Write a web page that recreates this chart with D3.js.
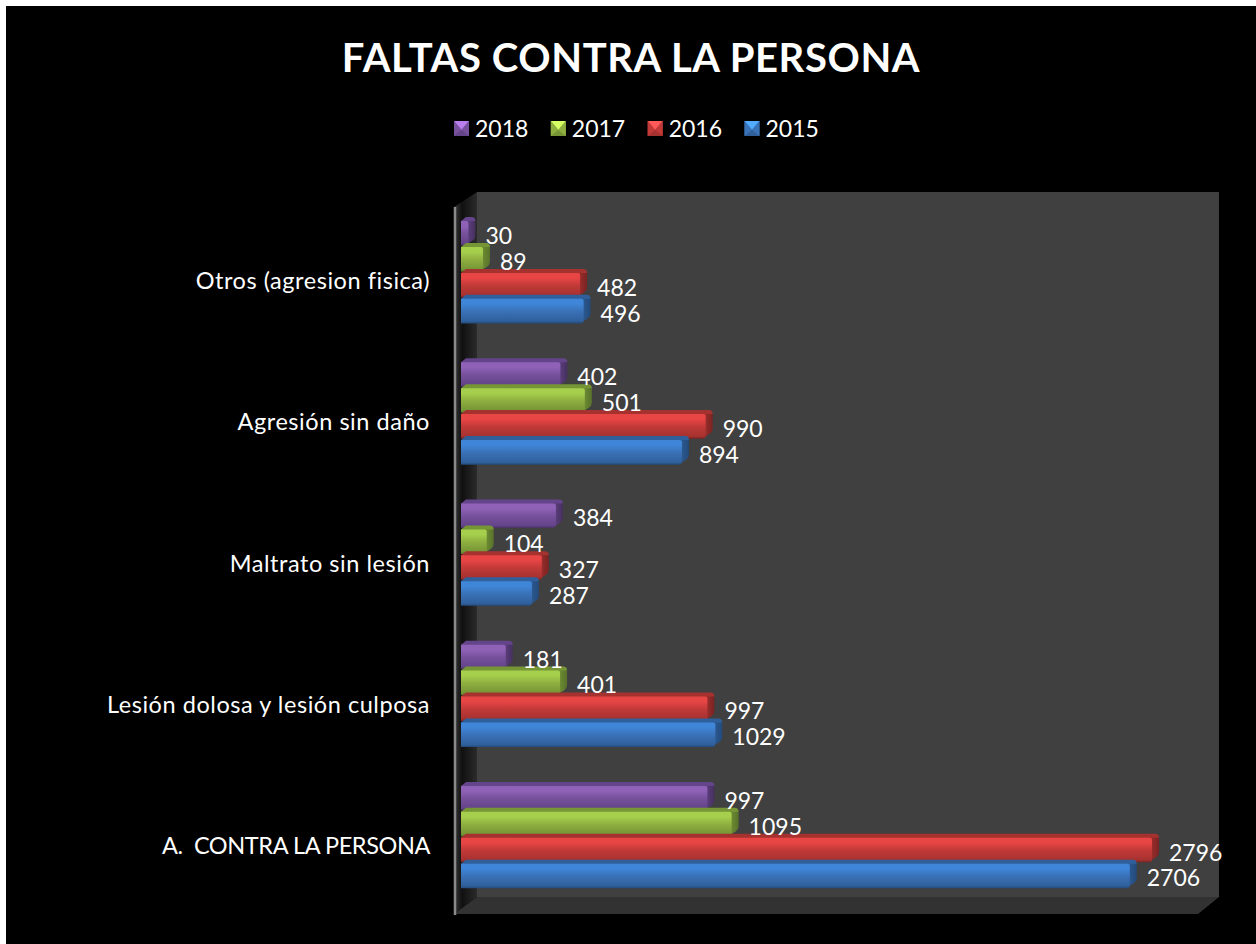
<!DOCTYPE html>
<html>
<head>
<meta charset="utf-8">
<script src="https://cdn.jsdelivr.net/npm/d3@7"></script>
<style>
html, body { margin: 0; padding: 0; background: #fff; overflow: hidden; }
svg { display: block; }
text { font-family: Lato, "Open Sans", sans-serif; fill: #fff; white-space: pre; }
</style>
</head>
<body>
<div id="chart"></div>
<script>
var categories = ["Otros (agresion fisica)", "Agresión sin daño", "Maltrato sin lesión", "Lesión dolosa y lesión culposa", "A.  CONTRA LA PERSONA"];
var years = ["2018", "2017", "2016", "2015"];
var values2018 = [30, 402, 384, 181, 997];
var values2017 = [89, 501, 104, 401, 1095];
var values2016 = [482, 990, 327, 997, 2796];
var values2015 = [496, 894, 287, 1029, 2706];
var seriesValues = [values2018, values2017, values2016, values2015];

// top, middle, bottom, side colours for each year
var palette = {
    "2018": ["#8f62b8", "#77519c", "#64448a", "#46305f"],
    "2017": ["#a6cf4d", "#8fb040", "#769636", "#58732a"],
    "2016": ["#e84545", "#c23a38", "#a63230", "#7a2322"],
    "2015": ["#3f86d8", "#3a72b8", "#30609c", "#234a7a"]
};

var width = 1256, height = 944;
var depthX = 7, depthY = 4;

var svg = d3.select("#chart").append("svg").attr("width", width).attr("height", height);
var defs = svg.append("defs");

years.forEach(function (year) {
    var c = palette[year];
    var grad = defs.append("linearGradient").attr("id", "bar" + year)
        .attr("x1", 0).attr("y1", 0).attr("x2", 0).attr("y2", 1);
    grad.append("stop").attr("offset", "0").attr("stop-color", c[0]);
    grad.append("stop").attr("offset", "0.2").attr("stop-color", c[0]);
    grad.append("stop").attr("offset", "0.5").attr("stop-color", c[1]);
    grad.append("stop").attr("offset", "0.9").attr("stop-color", c[2]);
    grad.append("stop").attr("offset", "1").attr("stop-color", c[3]);
    // rounded right end of each bar, front colour fading into the side face
    var side = defs.append("linearGradient").attr("id", "side" + year)
        .attr("x1", 0).attr("y1", 0).attr("x2", 1).attr("y2", 0);
    side.append("stop").attr("offset", "0").attr("stop-color", c[2]);
    side.append("stop").attr("offset", "1").attr("stop-color", c[3]);
});
var wallGrad = defs.append("linearGradient").attr("id", "leftWall")
    .attr("x1", 0).attr("y1", 0).attr("x2", 1).attr("y2", 0);
wallGrad.append("stop").attr("offset", "0").attr("stop-color", "#3a3a3a");
wallGrad.append("stop").attr("offset", "0.35").attr("stop-color", "#101010");
wallGrad.append("stop").attr("offset", "1").attr("stop-color", "#2b2b2b");

svg.append("rect").attr("x", 6).attr("y", 6).attr("width", width - 6).attr("height", height - 6).attr("fill", "#000");

svg.append("text").attr("x", 631).attr("y", 72).attr("text-anchor", "middle")
    .attr("font-size", 40).attr("font-weight", 700).attr("letter-spacing", 0.6).text("FALTAS CONTRA LA PERSONA");

// walls and floor
var line = d3.line();
svg.append("rect").attr("x", 477).attr("y", 192).attr("width", 742).attr("height", 705).attr("fill", "#404040");
svg.append("path").attr("d", line([[454, 207], [477, 192], [477, 897], [454, 914]]) + "Z").attr("fill", "url(#leftWall)");
svg.append("path").attr("d", line([[477, 897], [1219, 897], [1198, 914], [454, 914]]) + "Z").attr("fill", "#323232");
svg.append("line").attr("x1", 455).attr("x2", 455).attr("y1", 207).attr("y2", 915)
    .attr("stroke", "#8a8a8a").attr("stroke-width", 2.5);

var x = d3.scaleLinear().domain([0, 2796]).range([461, 1152]);
var y = d3.scaleBand().domain(categories).range([210.5, 916.5]);
var ySeries = d3.scaleBand().domain(years).range([y.bandwidth() * 0.075, y.bandwidth() * 0.80]).paddingInner(0.05).paddingOuter(0);

// category labels, the all-caps one needs tighter spacing to fit Lato to the original width
svg.append("g").selectAll("text").data(categories).enter().append("text")
    .attr("x", 430)
    .attr("y", function (d) { return y(d) + y.bandwidth() / 2 + 8; })
    .attr("text-anchor", "end")
    .attr("font-size", 23.5)
    .attr("letter-spacing", function (d) { return d === d.toUpperCase() ? -0.4 : 0.55; })
    .text(function (d) { return d; });

// bars, 2018 first so the later years sit on top of the depth faces
years.forEach(function (year, s) {
    var c = palette[year];
    var g = svg.append("g");
    categories.forEach(function (cat, i) {
        var v = seriesValues[s][i];
        var x0 = x(0), x1 = x(v);
        var y0 = y(cat) + ySeries(year), h = ySeries.bandwidth();
        // top face
        g.append("path")
            .attr("d", "M" + x0 + "," + y0 + "L" + (x0 + 5) + "," + (y0 - depthY) + "H" + (x1 + depthX - 4) +
                "Q" + (x1 + depthX) + "," + (y0 - depthY) + " " + (x1 + depthX) + "," + (y0 - depthY + 4) +
                "L" + (x1 - 2) + "," + (y0 + 2) + "H" + x0 + "Z")
            .attr("fill", c[2]);
        // side face
        g.append("path")
            .attr("d", "M" + (x1 - 4) + "," + (y0 + h) + "L" + (x1 + depthX - 3) + "," + (y0 + h - depthY - 1) +
                "Q" + (x1 + depthX) + "," + (y0 + h - depthY - 3) + " " + (x1 + depthX) + "," + (y0 + h - depthY - 6) +
                "V" + (y0 - depthY + 4) + "L" + (x1 - 4) + "," + y0 + "Z")
            .attr("fill", "url(#side" + year + ")");
        // front face
        g.append("path")
            .attr("d", "M" + x0 + "," + y0 + "H" + (x1 - 2) + "Q" + x1 + "," + y0 + " " + x1 + "," + (y0 + 2) +
                "V" + (y0 + h - 3) + "Q" + x1 + "," + (y0 + h) + " " + (x1 - 3) + "," + (y0 + h) + "H" + x0 + "Z")
            .attr("fill", "url(#bar" + year + ")");
    });
});

// value labels
years.forEach(function (year, s) {
    svg.append("g").selectAll("text").data(seriesValues[s]).enter().append("text")
        .attr("x", function (d) { return x(d) + 17; })
        .attr("y", function (d, i) { return y(categories[i]) + ySeries(year) + ySeries.bandwidth() / 2 + 10.5; })
        .attr("font-size", 23)
        .text(function (d) { return d; });
});

// legend
var legendX = d3.scalePoint().domain(years).range([454, 744.5]);
var legend = svg.append("g").selectAll("g").data(years).enter().append("g")
    .attr("transform", function (d) { return "translate(" + legendX(d) + ",121)"; });
legend.append("rect").attr("width", 15).attr("height", 15).attr("fill", function (d) { return palette[d][2]; });
legend.append("path").attr("d", line([[0, 0], [15, 0], [7.5, 9]]) + "Z").attr("fill", function (d) { return d3.color(palette[d][0]).brighter(0.7); });
legend.append("path").attr("d", line([[0, 0], [7.5, 9], [0, 15]]) + "Z").attr("fill", function (d) { return palette[d][1]; });
legend.append("path").attr("d", line([[15, 0], [7.5, 9], [15, 15]]) + "Z").attr("fill", function (d) { return palette[d][1]; });
legend.append("text").attr("x", 21).attr("y", 16).attr("font-size", 23).text(function (d) { return d; });
</script>
</body>
</html>
